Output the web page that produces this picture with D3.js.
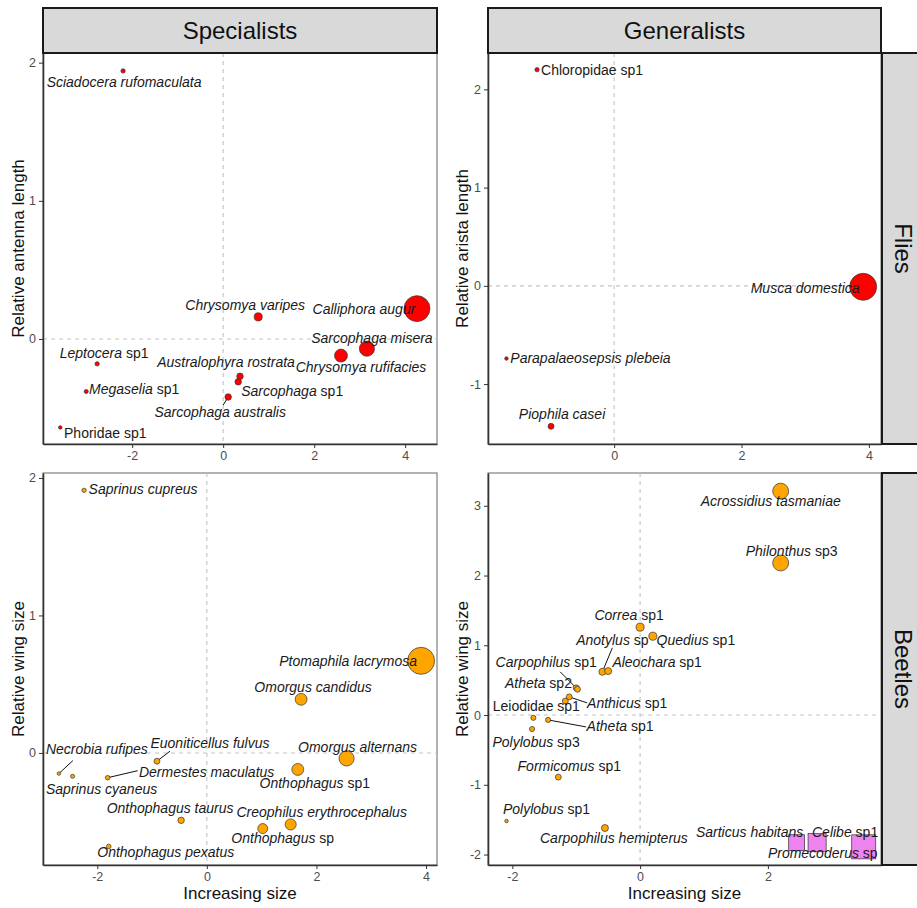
<!DOCTYPE html>
<html>
<head>
<meta charset="utf-8">
<script src="https://cdn.jsdelivr.net/npm/d3@7"></script>
<style>
  body { margin: 0; background: #fff; }
  svg { display: block; font-family: "Liberation Sans", Arial, sans-serif; }
</style>
</head>
<body>
<div id="chart"></div>
<script>
// ---- data: [species, relative size (x), relative trait (y), body size] ----
const fliesSpecialists = [
  ["Sciadocera rufomaculata", -2.20, 1.94, 1.6],
  ["Chrysomya varipes", 0.77, 0.16, 3.0],
  ["Calliphora augur", 4.26, 0.22, 9.6],
  ["Sarcophaga misera", 3.16, -0.07, 5.6],
  ["Chrysomya rufifacies", 2.59, -0.12, 4.8],
  ["Australophyra rostrata", 0.37, -0.27, 2.4],
  ["Sarcophaga sp1", 0.33, -0.31, 2.4],
  ["Sarcophaga australis", 0.11, -0.42, 2.4],
  ["Leptocera sp1", -2.77, -0.18, 1.6],
  ["Megaselia sp1", -3.01, -0.38, 1.5],
  ["Phoridae sp1", -3.58, -0.64, 1.3]
];
const fliesGeneralists = [
  ["Chloropidae sp1", -1.21, 2.20, 1.6],
  ["Musca domestica", 3.91, -0.01, 10],
  ["Parapalaeosepsis plebeia", -1.69, -0.74, 1.3],
  ["Piophila casei", -0.99, -1.43, 2.2]
];
const beetlesSpecialists = [
  ["Saprinus cupreus", -2.24, 1.91, 1.6],
  ["Ptomaphila lacrymosa", 3.91, 0.67, 10],
  ["Omorgus candidus", 1.72, 0.39, 4.4],
  ["Omorgus alternans", 2.55, -0.04, 5.6],
  ["Onthophagus sp1", 1.66, -0.12, 4.4],
  ["Euoniticellus fulvus", -0.91, -0.06, 2.2],
  ["Necrobia rufipes", -2.70, -0.15, 1.3],
  ["Saprinus cyaneus", -2.45, -0.17, 1.5],
  ["Dermestes maculatus", -1.81, -0.18, 1.7],
  ["Onthophagus taurus", -0.47, -0.49, 2.4],
  ["Creophilus erythrocephalus", 1.53, -0.52, 4.1],
  ["Onthophagus sp", 1.02, -0.55, 3.7],
  ["Onthophagus pexatus", -1.79, -0.68, 1.7]
];
const beetlesGeneralists = [
  ["Acrossidius tasmaniae", 2.20, 3.21, 5.9],
  ["Philonthus sp3", 2.20, 2.18, 5.9],
  ["Correa sp1", 0.00, 1.26, 3.0],
  ["Quedius sp1", 0.20, 1.13, 3.0],
  ["Anotylus sp", -0.59, 0.62, 2.6],
  ["Aleochara sp1", -0.50, 0.63, 2.6],
  ["Carpophilus sp1", -1.00, 0.39, 2.2],
  ["Atheta sp2", -0.98, 0.37, 2.2],
  ["Anthicus sp1", -1.11, 0.26, 2.2],
  ["Leiodidae sp1", -1.17, 0.20, 2.2],
  ["Atheta sp1", -1.44, -0.07, 1.9],
  ["", -1.67, -0.04, 1.9],
  ["Polylobus sp3", -1.69, -0.20, 1.9],
  ["Formicomus sp1", -1.28, -0.89, 2.2],
  ["Polylobus sp1", -2.09, -1.52, 1.3],
  ["Carpophilus hemipterus", -0.55, -1.62, 2.6],
  ["Sarticus habitans", 2.45, -1.83, 5.9],
  ["Celibe sp1", 2.77, -1.83, 6.7],
  ["Promecoderus sp", 3.50, -1.89, 8.9]
];
const squareSpecies = ["Sarticus habitans", "Celibe sp1", "Promecoderus sp"];

const colLabels = ["Specialists", "Generalists"];
const rowLabels = ["Flies", "Beetles"];
const yTitles = [["Relative antenna length", "Relative arista length"],
                 ["Relative wing size", "Relative wing size"]];
const xTitle = "Increasing size";
const xTicks = [-2, 0, 2, 4];
const yTicks = [-2, -1, 0, 1, 2, 3];

// ---- label placement (repel-style offsets from the point, px) and optional segment end ----
const labelPos = {
  "Sciadocera rufomaculata": [1, 11],
  "Chrysomya varipes": [-13, -12],
  "Calliphora augur": [-53, 0],
  "Sarcophaga misera": [5, -11],
  "Chrysomya rufifacies": [20, 12],
  "Australophyra rostrata": [-14, -14],
  "Sarcophaga sp1": [54, 9],
  "Sarcophaga australis": [-8, 15, -5, 8],
  "Leptocera sp1": [7, -11],
  "Megaselia sp1": [48, -2],
  "Phoridae sp1": [45, 6],
  "Chloropidae sp1": [55, 0],
  "Musca domestica": [-58, 1],
  "Parapalaeosepsis plebeia": [84, 0],
  "Piophila casei": [11, -12],
  "Saprinus cupreus": [59, -1],
  "Ptomaphila lacrymosa": [-73, 0],
  "Omorgus candidus": [12, -12],
  "Omorgus alternans": [11, -11],
  "Onthophagus sp1": [17, 14],
  "Euoniticellus fulvus": [53, -18, 13, -10],
  "Necrobia rufipes": [38, -24, 14, -13],
  "Saprinus cyaneus": [29, 13],
  "Dermestes maculatus": [99, -6, 30, -7],
  "Onthophagus taurus": [-11, -12],
  "Creophilus erythrocephalus": [31, -12],
  "Onthophagus sp": [20, 10],
  "Onthophagus pexatus": [57, 6],
  "Acrossidius tasmaniae": [-10, 10],
  "Philonthus sp3": [11, -12],
  "Correa sp1": [-11, -12],
  "Quedius sp1": [43, 4],
  "Anotylus sp": [10, -32, 10, -24],
  "Aleochara sp1": [49, -9],
  "Carpophilus sp1": [-30, -26, -16, -16],
  "Atheta sp2": [-39, -6],
  "Anthicus sp1": [58, 6, 18, 6],
  "Leiodidae sp1": [-29, 5],
  "Atheta sp1": [72, 6, 38, 7],
  "Polylobus sp3": [4, 13],
  "Formicomus sp1": [11, -11],
  "Polylobus sp1": [40, -12],
  "Carpophilus hemipterus": [9, 10],
  "Sarticus habitans": [-47, -11],
  "Celibe sp1": [28, -11],
  "Promecoderus sp": [-41, 6]
};

const panels = [
  {row: 0, col: 0, data: fliesSpecialists, fill: "#FF0000",
   x0: 43, x1: 437, y0: 53, y1: 444, xd: [-3.96, 4.70], yd: [-0.76, 2.07]},
  {row: 0, col: 1, data: fliesGeneralists, fill: "#FF0000",
   x0: 488, x1: 881, y0: 53, y1: 444, xd: [-1.98, 4.19], yd: [-1.61, 2.37]},
  {row: 1, col: 0, data: beetlesSpecialists, fill: "#FFA500",
   x0: 43, x1: 437, y0: 473, y1: 865, xd: [-2.99, 4.20], yd: [-0.815, 2.036]},
  {row: 1, col: 1, data: beetlesGeneralists, fill: "#FFA500",
   x0: 488, x1: 881, y0: 473, y1: 865, xd: [-2.38, 3.77], yd: [-2.15, 3.47]}
];

const width = 917, height = 908;
const svg = d3.select("#chart").append("svg")
  .attr("width", width)
  .attr("height", height);

const rScale = d3.scaleLinear().domain([0, 10]).range([0, 13.5]);

function labelParts(name) {
  const m = name.match(/^(.*) (sp\d*)$/);
  if (m && /idae$/.test(m[1])) return [[name, false]];
  if (m) return [[m[1], true], [" " + m[2], false]];
  return [[name, true]];
}

panels.forEach(p => {
  const x = d3.scaleLinear().domain(p.xd).range([p.x0, p.x1]);
  const y = d3.scaleLinear().domain(p.yd).range([p.y1, p.y0]);
  const g = svg.append("g");

  g.append("rect")
    .attr("x", p.x0).attr("y", p.y0)
    .attr("width", p.x1 - p.x0).attr("height", p.y1 - p.y0)
    .attr("fill", "#fff").attr("stroke", "#666").attr("stroke-width", 1);

  // reference lines at zero
  g.append("line")
    .attr("x1", x(0)).attr("x2", x(0)).attr("y1", p.y0).attr("y2", p.y1)
    .attr("stroke", "#c4c4c4").attr("stroke-width", 1.1).attr("stroke-dasharray", "4,4");
  g.append("line")
    .attr("x1", p.x0).attr("x2", p.x1).attr("y1", y(0)).attr("y2", y(0))
    .attr("stroke", "#c4c4c4").attr("stroke-width", 1.1).attr("stroke-dasharray", "4,4");

  // axes
  const xt = xTicks.filter(t => t >= p.xd[0] && t <= p.xd[1]);
  const yt = yTicks.filter(t => t >= p.yd[0] && t <= p.yd[1]);
  const xAxis = g.append("g")
    .attr("transform", "translate(0," + p.y1 + ")")
    .call(d3.axisBottom(x).tickValues(xt).tickSize(4).tickSizeOuter(0).tickPadding(3).tickFormat(d3.format("d")));
  const yAxis = g.append("g")
    .attr("transform", "translate(" + p.x0 + ",0)")
    .call(d3.axisLeft(y).tickValues(yt).tickSize(4).tickSizeOuter(0).tickPadding(3).tickFormat(d3.format("d")));
  [xAxis, yAxis].forEach(a => {
    a.select(".domain").attr("stroke", "#333").attr("stroke-width", 1.6);
    a.selectAll(".tick line").attr("stroke", "#333");
    a.selectAll(".tick text")
      .attr("fill", "#4d4d4d")
      .style("font-size", "12.5px")
      .style("font-family", "Liberation Sans, Arial, sans-serif")
      .text(d => d < 0 ? "-" + Math.abs(d) : d);
  });

  // y title
  svg.append("text")
    .attr("transform", "translate(" + (p.col === 0 ? 18 : 462) + "," + ((p.y0 + p.y1) / 2) + ") rotate(-90)")
    .attr("text-anchor", "middle").attr("dy", "0.35em")
    .style("font-size", "17px").attr("fill", "#111")
    .text(yTitles[p.row][p.col]);

  if (p.row === 1) {
    svg.append("text")
      .attr("x", (p.x0 + p.x1) / 2).attr("y", 893)
      .attr("text-anchor", "middle").attr("dy", "0.35em")
      .style("font-size", "17px").attr("fill", "#111")
      .text(xTitle);
  }

  // segments
  p.data.forEach(d => {
    const lp = labelPos[d[0]];
    if (lp && lp.length === 4) {
      g.append("line")
        .attr("x1", x(d[1])).attr("y1", y(d[2]))
        .attr("x2", x(d[1]) + lp[2]).attr("y2", y(d[2]) + lp[3])
        .attr("stroke", "#111").attr("stroke-width", 1);
    }
  });

  // points, largest first so small ones stay visible
  const pts = p.data.slice().sort((a, b) => b[3] - a[3]);
  pts.forEach(d => {
    const r = rScale(d[3]);
    if (squareSpecies.includes(d[0])) {
      const s = r * 2;
      g.append("rect")
        .attr("x", x(d[1]) - s / 2).attr("y", y(d[2]) - s / 2)
        .attr("width", s).attr("height", s)
        .attr("fill", "#EE82EE").attr("stroke", "#333").attr("stroke-width", 0.7);
    } else {
      g.append("circle")
        .attr("cx", x(d[1])).attr("cy", y(d[2])).attr("r", r)
        .attr("fill", p.fill).attr("stroke", "#333").attr("stroke-width", 0.7);
    }
  });

  // labels
  p.data.forEach(d => {
    const lp = labelPos[d[0]];
    if (!d[0] || !lp) return;
    const t = g.append("text")
      .attr("x", x(d[1]) + lp[0]).attr("y", y(d[2]) + lp[1])
      .attr("text-anchor", "middle").attr("dy", "0.35em")
      .style("font-size", "14px").attr("fill", "#1a1a1a");
    labelParts(d[0]).forEach(part => {
      t.append("tspan").style("font-style", part[1] ? "italic" : "normal").text(part[0]);
    });
  });
});

// strips
colLabels.forEach((c, i) => {
  const p = panels[i];
  svg.append("rect")
    .attr("x", p.x0).attr("y", 8).attr("width", p.x1 - p.x0).attr("height", 45)
    .attr("fill", "#d9d9d9").attr("stroke", "#1a1a1a").attr("stroke-width", 2);
  svg.append("text")
    .attr("x", (p.x0 + p.x1) / 2).attr("y", 30.5).attr("dy", "0.35em")
    .attr("text-anchor", "middle").style("font-size", "24px").attr("fill", "#111")
    .text(c);
});
rowLabels.forEach((rl, i) => {
  const p = panels[i * 2 + 1];
  svg.append("rect")
    .attr("x", 882).attr("y", p.y0).attr("width", 45).attr("height", p.y1 - p.y0)
    .attr("fill", "#d9d9d9").attr("stroke", "#1a1a1a").attr("stroke-width", 2);
  svg.append("text")
    .attr("transform", "translate(903," + ((p.y0 + p.y1) / 2) + ") rotate(90)")
    .attr("dy", "0.35em").attr("text-anchor", "middle")
    .style("font-size", "24px").attr("fill", "#111")
    .text(rl);
});
</script>
</body>
</html>
